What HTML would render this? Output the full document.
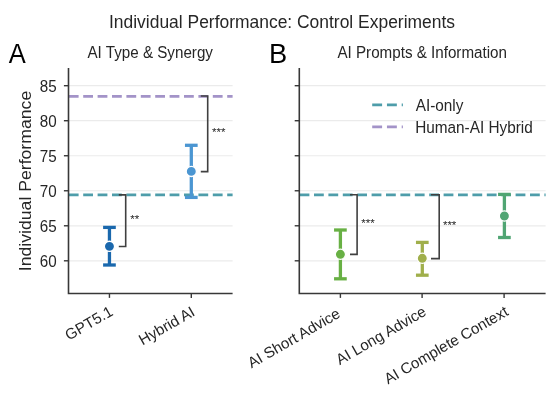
<!DOCTYPE html>
<html><head><meta charset="utf-8"><style>
html,body{margin:0;padding:0;background:#fff;width:558px;height:393px;overflow:hidden}
svg{display:block;will-change:transform}
text{font-family:"Liberation Sans",sans-serif}
</style></head><body>
<svg width="558" height="393" viewBox="0 0 558 393">
<line x1="68.5" y1="260.80" x2="232.6" y2="260.80" stroke="#ebebeb" stroke-width="1.2"/>
<line x1="68.5" y1="225.78" x2="232.6" y2="225.78" stroke="#ebebeb" stroke-width="1.2"/>
<line x1="68.5" y1="190.76" x2="232.6" y2="190.76" stroke="#ebebeb" stroke-width="1.2"/>
<line x1="68.5" y1="155.74" x2="232.6" y2="155.74" stroke="#ebebeb" stroke-width="1.2"/>
<line x1="68.5" y1="120.72" x2="232.6" y2="120.72" stroke="#ebebeb" stroke-width="1.2"/>
<line x1="68.5" y1="85.70" x2="232.6" y2="85.70" stroke="#ebebeb" stroke-width="1.2"/>
<line x1="299.3" y1="260.80" x2="545.6" y2="260.80" stroke="#ebebeb" stroke-width="1.2"/>
<line x1="299.3" y1="225.78" x2="545.6" y2="225.78" stroke="#ebebeb" stroke-width="1.2"/>
<line x1="299.3" y1="190.76" x2="545.6" y2="190.76" stroke="#ebebeb" stroke-width="1.2"/>
<line x1="299.3" y1="155.74" x2="545.6" y2="155.74" stroke="#ebebeb" stroke-width="1.2"/>
<line x1="299.3" y1="120.72" x2="545.6" y2="120.72" stroke="#ebebeb" stroke-width="1.2"/>
<line x1="299.3" y1="85.70" x2="545.6" y2="85.70" stroke="#ebebeb" stroke-width="1.2"/>
<line x1="68.8" y1="194.89" x2="232.6" y2="194.89" stroke="#4e9daa" stroke-width="2.6" stroke-dasharray="9.8 4.6"/>
<line x1="299.6" y1="194.89" x2="545.6" y2="194.89" stroke="#4e9daa" stroke-width="2.6" stroke-dasharray="9.8 4.6"/>
<line x1="68.8" y1="96.42" x2="232.6" y2="96.42" stroke="#a393c8" stroke-width="2.6" stroke-dasharray="9.8 4.6"/>
<line x1="109.45" y1="227.4" x2="109.45" y2="265.0" stroke="#1a68ad" stroke-width="3.3"/>
<line x1="103.10" y1="227.4" x2="115.80" y2="227.4" stroke="#1a68ad" stroke-width="3.3"/>
<line x1="103.10" y1="265.0" x2="115.80" y2="265.0" stroke="#1a68ad" stroke-width="3.3"/>
<circle cx="109.45" cy="246.35" r="5.1" fill="#1a68ad" stroke="#fff" stroke-width="1.3"/>
<line x1="191.3" y1="145.3" x2="191.3" y2="197.4" stroke="#4b96d2" stroke-width="3.3"/>
<line x1="184.95" y1="145.3" x2="197.65" y2="145.3" stroke="#4b96d2" stroke-width="3.3"/>
<line x1="184.95" y1="197.4" x2="197.65" y2="197.4" stroke="#4b96d2" stroke-width="3.3"/>
<circle cx="191.3" cy="171.4" r="5.1" fill="#4b96d2" stroke="#fff" stroke-width="1.3"/>
<line x1="340.4" y1="230.0" x2="340.4" y2="278.8" stroke="#68b044" stroke-width="3.3"/>
<line x1="334.05" y1="230.0" x2="346.75" y2="230.0" stroke="#68b044" stroke-width="3.3"/>
<line x1="334.05" y1="278.8" x2="346.75" y2="278.8" stroke="#68b044" stroke-width="3.3"/>
<circle cx="340.4" cy="254.3" r="5.1" fill="#68b044" stroke="#fff" stroke-width="1.3"/>
<line x1="422.3" y1="242.4" x2="422.3" y2="275.2" stroke="#a0af4b" stroke-width="3.3"/>
<line x1="415.95" y1="242.4" x2="428.65" y2="242.4" stroke="#a0af4b" stroke-width="3.3"/>
<line x1="415.95" y1="275.2" x2="428.65" y2="275.2" stroke="#a0af4b" stroke-width="3.3"/>
<circle cx="422.3" cy="258.3" r="5.1" fill="#a0af4b" stroke="#fff" stroke-width="1.3"/>
<line x1="504.4" y1="194.4" x2="504.4" y2="237.5" stroke="#50a573" stroke-width="3.3"/>
<line x1="498.05" y1="194.4" x2="510.75" y2="194.4" stroke="#50a573" stroke-width="3.3"/>
<line x1="498.05" y1="237.5" x2="510.75" y2="237.5" stroke="#50a573" stroke-width="3.3"/>
<circle cx="504.4" cy="216.0" r="5.1" fill="#50a573" stroke="#fff" stroke-width="1.3"/>
<polyline points="118.8,194.9 125.7,194.9 125.7,246.5 118.8,246.5" fill="none" stroke="#404040" stroke-width="1.6"/>
<text transform="translate(130.30 223.40)" font-size="11.5" fill="#262626">**</text>
<polyline points="200.8,96.0 207.7,96.0 207.7,171.6 200.8,171.6" fill="none" stroke="#404040" stroke-width="1.6"/>
<text transform="translate(212.00 136.20)" font-size="11.5" fill="#262626">***</text>
<polyline points="350.0,194.7 357.1,194.7 357.1,254.4 350.0,254.4" fill="none" stroke="#404040" stroke-width="1.6"/>
<text transform="translate(361.20 226.80)" font-size="11.5" fill="#262626">***</text>
<polyline points="431.0,194.7 439.2,194.7 439.2,258.6 431.0,258.6" fill="none" stroke="#404040" stroke-width="1.6"/>
<text transform="translate(442.90 228.70)" font-size="11.5" fill="#262626">***</text>
<polyline points="68.5,68.0 68.5,293.5 232.6,293.5" fill="none" stroke="#383838" stroke-width="1.6"/>
<line x1="63.9" y1="260.80" x2="68.5" y2="260.80" stroke="#383838" stroke-width="1.4"/>
<line x1="63.9" y1="225.78" x2="68.5" y2="225.78" stroke="#383838" stroke-width="1.4"/>
<line x1="63.9" y1="190.76" x2="68.5" y2="190.76" stroke="#383838" stroke-width="1.4"/>
<line x1="63.9" y1="155.74" x2="68.5" y2="155.74" stroke="#383838" stroke-width="1.4"/>
<line x1="63.9" y1="120.72" x2="68.5" y2="120.72" stroke="#383838" stroke-width="1.4"/>
<line x1="63.9" y1="85.70" x2="68.5" y2="85.70" stroke="#383838" stroke-width="1.4"/>
<polyline points="299.3,68.0 299.3,293.5 545.6,293.5" fill="none" stroke="#383838" stroke-width="1.6"/>
<line x1="294.7" y1="260.80" x2="299.3" y2="260.80" stroke="#383838" stroke-width="1.4"/>
<line x1="294.7" y1="225.78" x2="299.3" y2="225.78" stroke="#383838" stroke-width="1.4"/>
<line x1="294.7" y1="190.76" x2="299.3" y2="190.76" stroke="#383838" stroke-width="1.4"/>
<line x1="294.7" y1="155.74" x2="299.3" y2="155.74" stroke="#383838" stroke-width="1.4"/>
<line x1="294.7" y1="120.72" x2="299.3" y2="120.72" stroke="#383838" stroke-width="1.4"/>
<line x1="294.7" y1="85.70" x2="299.3" y2="85.70" stroke="#383838" stroke-width="1.4"/>
<line x1="109.45" y1="293.5" x2="109.45" y2="297.9" stroke="#383838" stroke-width="1.4"/>
<line x1="191.3" y1="293.5" x2="191.3" y2="297.9" stroke="#383838" stroke-width="1.4"/>
<line x1="340.4" y1="293.5" x2="340.4" y2="297.9" stroke="#383838" stroke-width="1.4"/>
<line x1="422.1" y1="293.5" x2="422.1" y2="297.9" stroke="#383838" stroke-width="1.4"/>
<line x1="504.1" y1="293.5" x2="504.1" y2="297.9" stroke="#383838" stroke-width="1.4"/>
<text transform="translate(56.60 267.10) scale(1 1.1)" font-size="15.2" fill="#262626" text-anchor="end">60</text>
<text transform="translate(56.60 232.08) scale(1 1.1)" font-size="15.2" fill="#262626" text-anchor="end">65</text>
<text transform="translate(56.60 197.06) scale(1 1.1)" font-size="15.2" fill="#262626" text-anchor="end">70</text>
<text transform="translate(56.60 162.04) scale(1 1.1)" font-size="15.2" fill="#262626" text-anchor="end">75</text>
<text transform="translate(56.60 127.02) scale(1 1.1)" font-size="15.2" fill="#262626" text-anchor="end">80</text>
<text transform="translate(56.60 92.00) scale(1 1.1)" font-size="15.2" fill="#262626" text-anchor="end">85</text>
<line x1="372.2" y1="104.9" x2="402.9" y2="104.9" stroke="#4e9daa" stroke-width="2.6" stroke-dasharray="9.9 4.85"/>
<line x1="372.2" y1="126.9" x2="402.9" y2="126.9" stroke="#a393c8" stroke-width="2.6" stroke-dasharray="9.9 4.85"/>
<text transform="translate(415.70 110.70) scale(1 1.05)" font-size="15.35" fill="#262626">AI-only</text>
<text transform="translate(415.20 132.60) scale(1 1.05)" font-size="15.35" fill="#262626">Human-AI Hybrid</text>
<text transform="translate(282.00 27.60)" font-size="17.45" fill="#262626" text-anchor="middle">Individual Performance: Control Experiments</text>
<text transform="translate(150.20 57.70) scale(1 1.08)" font-size="15.2" fill="#262626" text-anchor="middle">AI Type &amp; Synergy</text>
<text transform="translate(422.20 57.70) scale(1 1.08)" font-size="15.2" fill="#262626" text-anchor="middle">AI Prompts &amp; Information</text>
<text transform="translate(8.80 62.80) scale(1 1.05)" font-size="25.5" fill="#000">A</text>
<text transform="translate(268.90 62.80) scale(1.07 1.05)" font-size="25.5" fill="#000">B</text>
<text transform="translate(31.00 181.00) rotate(-90) scale(1 0.97)" font-size="17.65" fill="#262626" text-anchor="middle">Individual Performance</text>
<text transform="translate(114.05 314.50) rotate(-30)" font-size="15.2" fill="#262626" text-anchor="end">GPT5.1</text>
<text transform="translate(195.90 314.80) rotate(-30)" font-size="15.2" fill="#262626" text-anchor="end">Hybrid AI</text>
<text transform="translate(345.00 314.50) rotate(-30)" font-size="15.2" fill="#262626" text-anchor="end">AI Short Advice&#160;</text>
<text transform="translate(427.40 314.50) rotate(-30)" font-size="15.2" fill="#262626" text-anchor="end">AI Long Advice</text>
<text transform="translate(509.40 314.50) rotate(-30)" font-size="15.2" fill="#262626" text-anchor="end">AI Complete Context</text>
</svg>
</body></html>
